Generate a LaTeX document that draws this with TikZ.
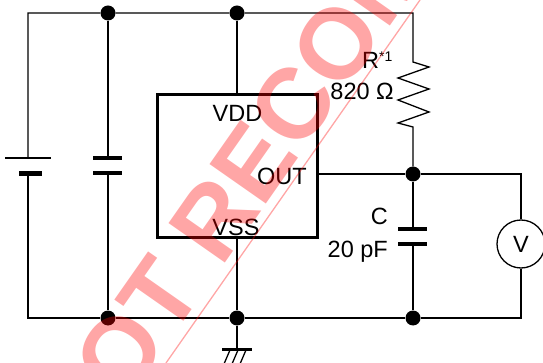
\documentclass[tikz,border=0pt]{standalone}
\usepackage{fontspec}
\setmainfont{Liberation Sans}
\begin{document}
\begin{tikzpicture}[x=1pt,y=-1pt,
  wire/.style={line width=1.3pt},
  dot/.style={circle,fill=black,inner sep=0pt,minimum size=15pt},
  lbl/.style={inner sep=0pt,font=\fontsize{23.5}{28}\selectfont},
  plate/.style={line width=3.2pt},
  wmark/.style={red,opacity=0.35,text opacity=0.35}
]
\useasboundingbox (0,0) rectangle (543,363);
% junctions
\coordinate (tl) at (28,13);
\node[dot] (t1) at (108,13) {};
\node[dot] (t2) at (237,13) {};
\coordinate (tr) at (413,13);
\coordinate (bl) at (28,318);
\node[dot] (b1) at (108,318) {};
\node[dot] (b2) at (237,318) {};
\node[dot] (b3) at (413,318) {};
\coordinate (br) at (521,318);
\node[dot] (o1) at (413,174) {};
\coordinate (or) at (521,174);
% IC
\node[draw,line width=3pt,minimum width=160pt,minimum height=143pt,inner sep=0pt] (ic) at (237,166.5) {};
\node[lbl,anchor=base] (vdd) at (237.5,122) {VDD};
\node[lbl,anchor=base east] (out) at (307,185) {OUT};
\node[lbl,anchor=base] (vss) at (236,236) {VSS};
% voltmeter
\node[draw,circle,wire,minimum size=48pt,inner sep=0pt,lbl] (vm) at (521,244) {V};
% battery
\coordinate (batA) at (28,158);
\coordinate (batB) at (28,174);
\draw[line width=1.8pt] (5,158) -- (51,158);
\draw[line width=5pt] (19,174) -- (42,174);
% left capacitor
\coordinate (c1A) at (108,158);
\coordinate (c1B) at (108,173);
\draw[plate] (93,158) -- (122,158);
\draw[plate] (93,173) -- (122,173);
% capacitor C
\coordinate (c2A) at (413,229);
\coordinate (c2B) at (413,244);
\draw[plate] (398,229) -- (427,229);
\draw[plate] (398,244) -- (427,244);
% resistor
\coordinate (ra) at (413,62);
\coordinate (rb) at (413,127);
% wires
\draw[wire] (batA) -- (tl) -- (t1) -- (t2) -- (tr) -- (ra)
  -- ++(16,5) -- ++(-31,11) -- ++(31,11) -- ++(-31,11) -- ++(31,12) -- ++(-31,11) -- (rb) -- (o1);
\draw[wire] (batB) -- (bl) -- (b1) -- (b2) -- (b3) -- (br) -- (vm.south);
\draw[wire] (t1) -- (c1A);
\draw[wire] (c1B) -- (b1);
\draw[wire] (t2) -- (ic.north);
\draw[wire] (ic.south) -- (b2);
\draw[wire] (ic.east |- o1) -- (o1) -- (or) -- (vm.north);
\draw[wire] (o1) -- (c2A);
\draw[wire] (c2B) -- (b3);
% ground
\coordinate (g) at (237,349);
\draw[wire] (b2) -- (g);
\draw[line width=3pt] (222,349) -- (252,349);
\draw[wire] (230,350) -- (224,364);
\draw[wire] (238,350) -- (232,364);
\draw[wire] (246,350) -- (240,364);
% labels
\node[lbl,anchor=base west] (rl) at (362,69) {R\raisebox{7pt}{\fontsize{14}{14}\selectfont *1}};
\node[lbl,anchor=base east] (rv) at (394,100) {820 Ω};
\node[lbl,anchor=base east] (cl) at (388,225) {C};
\node[lbl,anchor=base east] (cv) at (388,258) {20 pF};
% watermark
\begin{scope}
\clip (0,0) rectangle (543,363);
\node[wmark,rotate=55,anchor=base west,inner sep=0pt,font=\fontsize{100}{100}\selectfont\bfseries] (wm) at (84,464) {NOT RECOMMENDED FOR NEW DESIGN};
\draw[wmark,line width=1.3pt] (166,363) -- (420,0);
\end{scope}
\end{tikzpicture}
\end{document}
